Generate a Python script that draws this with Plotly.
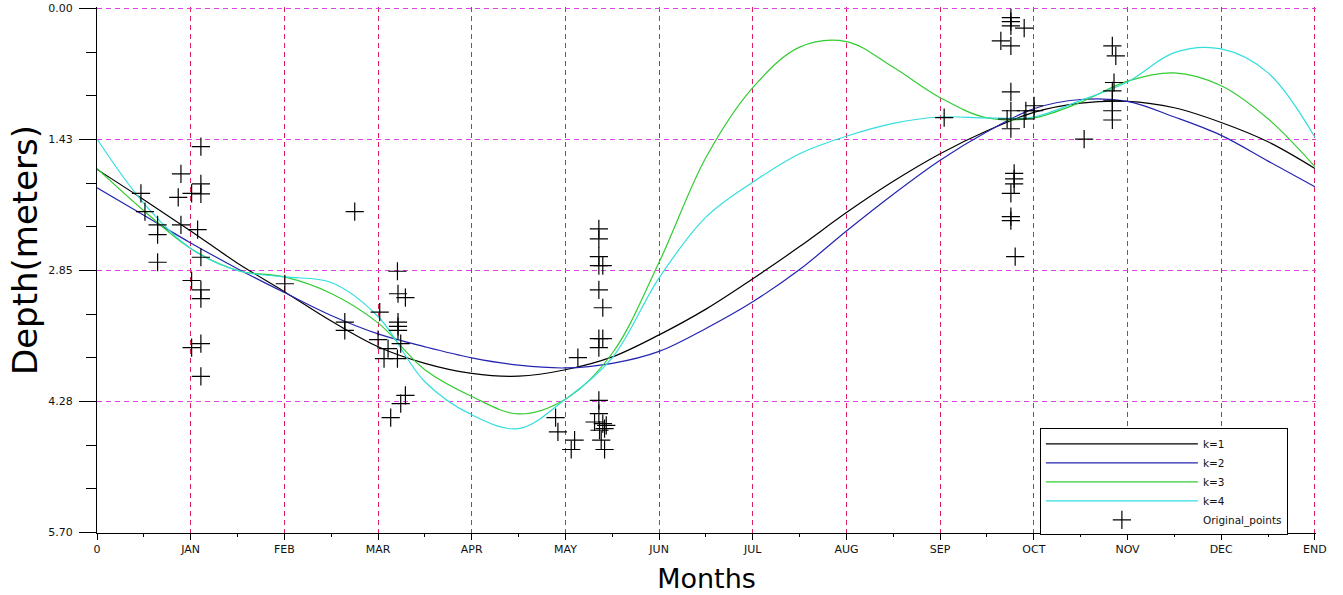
import plotly.graph_objects as go

# ---- data ----
month_labels = ["0", "JAN", "FEB", "MAR", "APR", "MAY", "JUN", "JUL", "AUG", "SEP", "OCT", "NOV", "DEC", "END"]
month_pos = list(range(14))
depth_ticks = [0.0, 1.425, 2.85, 4.275, 5.70]
depth_labels = ["0.00", "1.43", "2.85", "4.28", "5.70"]

curve_x = [i * 0.5 for i in range(27)]
k1 = [1.75, 2.08, 2.42, 2.77, 3.08, 3.40, 3.68, 3.86, 3.97, 4.00, 3.93, 3.79, 3.55, 3.27,
      2.94, 2.59, 2.22, 1.88, 1.58, 1.33, 1.13, 1.03, 1.01, 1.08, 1.24, 1.45, 1.74]
k2 = [1.95, 2.25, 2.55, 2.83, 3.09, 3.34, 3.54, 3.68, 3.80, 3.88, 3.91, 3.86, 3.73, 3.48,
      3.19, 2.84, 2.42, 2.02, 1.65, 1.34, 1.09, 0.99, 1.01, 1.18, 1.38, 1.66, 1.94]
k3 = [1.74, 2.20, 2.61, 2.85, 2.92, 3.10, 3.42, 3.93, 4.22, 4.41, 4.25, 3.75, 2.76, 1.62,
      0.86, 0.42, 0.36, 0.64, 0.97, 1.19, 1.19, 1.02, 0.79, 0.70, 0.84, 1.20, 1.72]
k4 = [1.42, 2.12, 2.61, 2.85, 2.92, 2.98, 3.35, 4.06, 4.42, 4.57, 4.25, 3.80, 2.93, 2.27,
      1.89, 1.58, 1.39, 1.25, 1.18, 1.19, 1.18, 1.00, 0.80, 0.48, 0.44, 0.70, 1.40]

pts_month = [
    0.469, 0.512, 0.647, 0.647, 0.647, 0.896, 0.867, 0.896, 1.010, 1.109,
    1.109, 1.109, 1.074, 1.109, 1.010, 1.109, 1.109, 1.010, 1.109, 1.109,
    2.005, 2.751,
    2.645, 2.645, 3.018, 3.000, 3.107, 3.064, 3.207, 3.213, 3.292, 3.213,
    3.213, 3.213, 3.242, 3.207, 3.292, 3.242, 3.135,
    5.357, 5.357, 5.357, 5.357, 5.399, 5.357, 5.399, 5.357, 5.399, 5.357,
    5.133, 5.357, 5.357, 5.311, 5.399, 5.436, 5.364, 5.418, 5.382, 4.895,
    4.920, 5.098, 5.062, 5.418,
    9.043,
    9.755, 9.755, 9.755, 9.897, 9.648, 9.755, 9.755, 9.755, 10.003, 9.915,
    10.003, 9.897, 9.715, 9.755, 9.790, 9.790, 9.790, 9.755, 9.755, 9.755,
    9.801,
    10.537, 10.838, 10.875, 10.856, 10.838, 10.838, 10.838, 10.838,
]
pts_depth = [
    2.010, 2.209, 2.354, 2.459, 2.760, 1.800, 2.054, 2.354, 2.010, 1.503,
    1.908, 2.017, 2.405, 2.706, 2.959, 3.060, 3.157, 3.690, 3.646, 4.001,
    2.994, 2.209,
    3.412, 3.502, 3.303, 3.603, 3.700, 3.809, 2.858, 3.103, 3.146, 3.412,
    3.458, 3.502, 3.646, 3.809, 4.208, 4.298, 4.450,
    2.397, 2.506, 2.698, 2.796, 2.796, 3.060, 3.255, 3.592, 3.592, 3.690,
    3.798, 4.262, 4.406, 4.498, 4.515, 4.534, 4.588, 4.569, 4.696, 4.450,
    4.606, 4.696, 4.797, 4.797,
    1.188,
    0.099, 0.142, 0.189, 0.214, 0.352, 0.406, 0.906, 1.112, 1.058, 1.112,
    1.112, 1.202, 1.202, 1.308, 1.793, 1.854, 1.908, 2.010, 2.263, 2.307,
    2.698,
    1.420, 0.406, 0.515, 0.805, 0.895, 1.004, 1.112, 1.213,
]

FONT = "DejaVu Sans"

# y scale chosen so the dashed depth gridlines fall on pixel centres (131 px per 1.425 m)
PLOT_H = 526
px_per_m = 131 / 1.425
y_top = -1.5 / px_per_m
y_bottom = y_top + PLOT_H / px_per_m

fig = go.Figure()
series = [("k=1", k1, "#000000"), ("k=2", k2, "#2424b0"), ("k=3", k3, "#33cc33"), ("k=4", k4, "#33dede")]
for name, ys, col in series:
    fig.add_trace(go.Scatter(x=curve_x, y=ys, mode="lines", name=name,
                             line=dict(color=col, width=1.2, shape="spline", smoothing=1.0)))
fig.add_trace(go.Scatter(x=pts_month, y=pts_depth, mode="markers", name="Original_points",
                         marker=dict(symbol="cross-thin", size=13, color="black",
                                     line=dict(color="black", width=1.2))))

fig.update_layout(
    width=1343, height=595,
    margin=dict(l=97, r=27, t=7, b=595 - 7 - PLOT_H),
    paper_bgcolor="white", plot_bgcolor="white",
    font=dict(family=FONT, size=11, color="#111"),
    legend=dict(x=0.7735, y=0.199, xanchor="left", yanchor="top",
                bordercolor="black", borderwidth=1, bgcolor="white",
                font=dict(size=10.5), itemwidth=152, tracegroupgap=0),
    xaxis=dict(range=[0, 13.012], tickmode="array", tickvals=month_pos, ticktext=month_labels,
               showgrid=True, gridcolor="#e0205a", griddash="5px,4px", gridwidth=1.1,
               zeroline=False, showline=True, linecolor="black", linewidth=1.3,
               ticks="outside", ticklen=6, tickcolor="black", tickwidth=1.3,
               minor=dict(tick0=0, dtick=0.5, ticks="outside", ticklen=3, tickcolor="black", showgrid=False),
               tickfont=dict(size=11), automargin=False,
               title=dict(text="Months", font=dict(size=27, color="black"), standoff=13)),
    yaxis=dict(range=[y_bottom, y_top], tickmode="array", tickvals=depth_ticks, ticktext=depth_labels,
               showgrid=True, gridcolor="#dd44dd", griddash="5px,4px", gridwidth=1,
               zeroline=False, showline=True, linecolor="black", linewidth=1.3,
               ticks="outside", ticklen=17, tickcolor="black", tickwidth=1.3,
               minor=dict(tick0=0, dtick=0.475, ticks="outside", ticklen=10, tickcolor="black", showgrid=False),
               tickfont=dict(size=11), ticklabelstandoff=4, automargin=False),
    annotations=[dict(text="Depth(meters)", textangle=-90, xref="paper", yref="paper",
                      x=(25 - 97) / 1219, y=(533 - 250) / PLOT_H, xanchor="center", yanchor="middle",
                      showarrow=False, font=dict(size=34, color="black", family=FONT))],
)

fig.write_html("out.html")
